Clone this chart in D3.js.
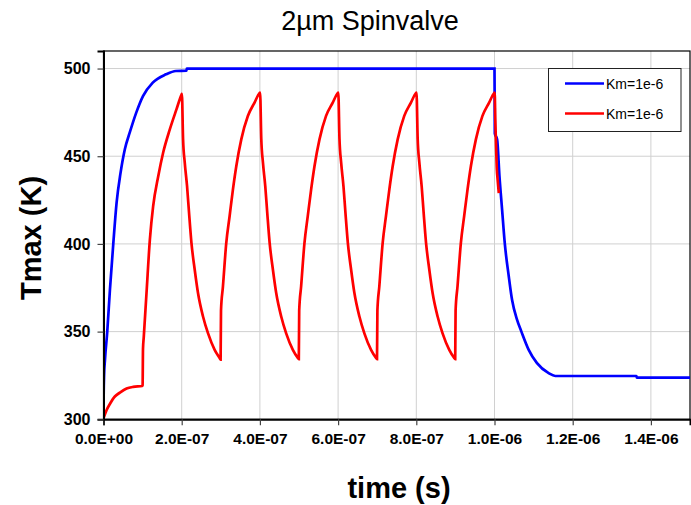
<!DOCTYPE html>
<html>
<head>
<meta charset="utf-8">
<script src="https://cdn.jsdelivr.net/npm/d3@7"></script>
<style>
  body { margin: 0; background: #fff; }
  svg { display: block; font-family: "Liberation Sans", Arial, sans-serif; }
</style>
</head>
<body>
<svg id="chart" width="691" height="505"></svg>
<script>
// ---- data (time in ns, temperature in K) ----
const titleText = "2\u00b5m Spinvalve";
const xLabel = "time (s)";
const yLabel = "Tmax (K)";
const seriesNames = ["Km=1e-6", "Km=1e-6"];
const xTicks = [0, 2e-7, 4e-7, 6e-7, 8e-7, 1e-6, 1.2e-6, 1.4e-6];
const xTickLabels = ["0.0E+00", "2.0E-07", "4.0E-07", "6.0E-07", "8.0E-07", "1.0E-06", "1.2E-06", "1.4E-06"];
const yTicks = [300, 350, 400, 450, 500];

const blueT = [0, 0.5, 1.5, 3.8, 9.6, 16.5, 25, 33.5, 43.6, 54.6, 67, 84, 101, 126, 160, 185, 212, 213,
  1000, 1000.8, 1006.7, 1012.7, 1019.4, 1026.3, 1036.5, 1045, 1057.8, 1068.8, 1087.5, 1108.7, 1138.5, 1155.5, 1363, 1364, 1500];
const blueK = [300, 315, 325, 334, 350, 374, 400, 423.6, 440.5, 454, 463.4, 475, 484.3, 492, 496.7, 498.6, 498.8, 500,
  500, 463, 459.6, 438.6, 419.6, 400.3, 381.5, 368, 356.7, 350, 339.6, 332, 326.3, 324.7, 324.7, 323.8, 323.8];

const redT = [0, 8, 17, 29, 42, 59, 76, 99, 100, 101, 103, 110, 118.6, 127, 140, 152.5, 169.6, 186.6, 199.4, 200.5,
  203.5, 207.8, 213.7, 218.8, 224.9, 233.3, 241.7, 254.5, 267.2, 284.3, 297, 299.5,
  300.5, 305.5, 314, 322.5, 331, 339.6, 352.4, 369.2, 386.3, 399, 400.5,
  403.5, 407.8, 413.7, 418.8, 424.9, 433.3, 441.7, 454.5, 467.2, 484.3, 497, 499.5,
  500.5, 505.5, 514, 522.5, 531, 539.6, 552.4, 569.2, 586.3, 599, 600.5,
  603.5, 607.8, 613.7, 618.8, 624.9, 633.3, 641.7, 654.5, 667.2, 684.3, 697, 699.5,
  700.5, 705.5, 714, 722.5, 731, 739.6, 752.4, 769.2, 786.3, 799, 800.5,
  803.5, 807.8, 813.7, 818.8, 824.9, 833.3, 841.7, 854.5, 867.2, 884.3, 897, 899.5,
  900.5, 905.5, 914, 922.5, 931, 939.6, 952.4, 969.2, 986.3, 999, 1000.5,
  1002, 1004, 1006, 1008, 1011];
const redK = [300.5, 305.3, 309, 313, 315.2, 317.5, 318.5, 319, 319.5, 340, 347, 372, 402.5, 421.5, 438.6, 452, 465.3, 476.7, 485, 485.5,
  459.6, 446.3, 432.9, 417.7, 400.6, 385.3, 372, 358.6, 349.1, 339.6, 334.9, 334,
  362, 375.8, 400.6, 415.8, 431, 444.3, 459.6, 472.9, 480.6, 486, 486.3,
  460, 446.3, 433, 417.7, 400.6, 385.3, 372, 358.6, 349, 339.6, 335, 334.3,
  362, 376, 400.6, 416, 431, 444.3, 459.6, 473, 480.6, 486, 486.3,
  460, 446.3, 433, 417.7, 400.6, 385.3, 372, 358.6, 349, 339.6, 335, 334.3,
  362, 376, 400.6, 416, 431, 444.3, 459.6, 473, 480.6, 486, 486.3,
  460, 446.3, 433, 417.7, 400.6, 385.3, 372, 358.6, 349, 339.6, 335, 334.3,
  362, 376, 400.6, 416, 431, 444.3, 459.6, 473, 480.6, 486, 486.3,
  471, 455.8, 442.5, 436.7, 429];

// ---- layout ----
const svg = d3.select("#chart");
const L = 103.5, R = 690, T = 51, B = 419.3;

const x = d3.scaleLinear().domain([0, 1.5e-6]).range([L, R]);
const y = d3.scaleLinear().domain([300, 510]).range([B, T]);

// gridlines
svg.append("g").selectAll("line.vg").data(xTicks.slice(1)).join("line")
  .attr("x1", d => x(d)).attr("x2", d => x(d)).attr("y1", T).attr("y2", B)
  .attr("stroke", "#d0d0d0").attr("stroke-width", 1);
svg.append("g").selectAll("line.hg").data(yTicks.slice(1)).join("line")
  .attr("x1", L).attr("x2", R).attr("y1", d => y(d)).attr("y2", d => y(d))
  .attr("stroke", "#d0d0d0").attr("stroke-width", 1);

// plot border
svg.append("rect").attr("x", L).attr("y", T).attr("width", R - L).attr("height", B - T)
  .attr("fill", "none").attr("stroke", "#000").attr("stroke-width", 1.2);

// series
const line = d3.line().curve(d3.curveMonotoneX).x(d => x(d[0] * 1e-9)).y(d => y(d[1]));
const blueData = blueT.map((t, i) => [t, blueK[i]]);
const redData = redT.map((t, i) => [t, redK[i]]);
svg.append("clipPath").attr("id", "clip").append("rect")
  .attr("x", L).attr("y", T - 2).attr("width", R - L).attr("height", B - T + 4);
svg.append("path").datum(blueData).attr("d", line).attr("fill", "none")
  .attr("stroke", "#0000ff").attr("stroke-width", 2.7).attr("clip-path", "url(#clip)");
svg.append("path").datum(redData).attr("d", line).attr("fill", "none")
  .attr("stroke", "#ff0000").attr("stroke-width", 2.7).attr("clip-path", "url(#clip)");

// axes
const xAxis = d3.axisBottom(x).tickValues(xTicks).tickFormat((d, i) => xTickLabels[i]).tickSize(6).tickPadding(8);
const gx = svg.append("g").attr("transform", `translate(0,${B})`).call(xAxis);
gx.select(".domain").attr("stroke", "#000").attr("stroke-width", 2);
gx.selectAll(".tick line").attr("stroke", "#444").attr("stroke-width", 1.2);
gx.selectAll("text").attr("font-size", "15.5px").attr("font-weight", "bold").attr("fill", "#000")
  .attr("font-family", "Liberation Sans, Arial, sans-serif");

const yAxis = d3.axisLeft(y).tickValues(yTicks).tickSize(6).tickPadding(7);
const gy = svg.append("g").attr("transform", `translate(${L},0)`).call(yAxis);
gy.select(".domain").attr("stroke", "#000").attr("stroke-width", 2);
gy.selectAll(".tick line").attr("stroke", "#444").attr("stroke-width", 1.2);
gy.selectAll("text").attr("font-size", "16px").attr("font-weight", "bold").attr("fill", "#000")
  .attr("font-family", "Liberation Sans, Arial, sans-serif");

// titles
svg.append("text").attr("x", 370).attr("y", 30).attr("text-anchor", "middle")
  .attr("font-size", "27px").attr("fill", "#000").text(titleText);
svg.append("text").attr("x", 399).attr("y", 498).attr("text-anchor", "middle")
  .attr("font-size", "29px").attr("font-weight", "bold").attr("fill", "#000").text(xLabel);
svg.append("text").attr("transform", "translate(41,238) rotate(-90)").attr("text-anchor", "middle")
  .attr("font-size", "29px").attr("font-weight", "bold").attr("fill", "#000").text(yLabel);

// legend
const lg = svg.append("g");
lg.append("rect").attr("x", 548.5).attr("y", 68.5).attr("width", 132.5).attr("height", 63)
  .attr("fill", "#fff").attr("stroke", "#222").attr("stroke-width", 1);
const colors = ["#0000ff", "#ff0000"];
seriesNames.forEach((n, i) => {
  const yy = 83.5 + i * 30;
  lg.append("line").attr("x1", 565).attr("x2", 604).attr("y1", yy).attr("y2", yy)
    .attr("stroke", colors[i]).attr("stroke-width", 2.7);
  lg.append("text").attr("x", 606).attr("y", yy + 5).attr("font-size", "14px").attr("fill", "#000").text(n);
});
</script>
</body>
</html>
